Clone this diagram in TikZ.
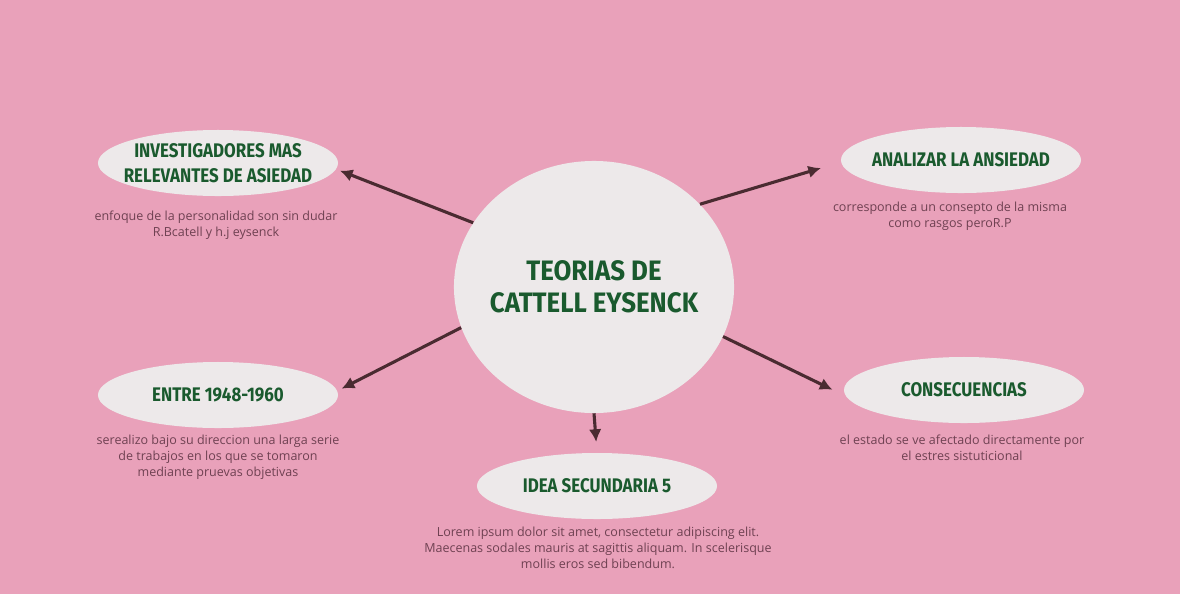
\documentclass[tikz,border=0pt]{standalone}
\usepackage{fontspec}
\usepackage{xcolor}
\usetikzlibrary{shapes.geometric,arrows.meta}
\setmainfont{Open Sans}
\newfontfamily\headfont{Fira Sans}[FakeStretch=0.86]
\newfontfamily\titlefont{Fira Sans}[FakeStretch=0.92]
\definecolor{fondo}{HTML}{E9A1BA}
\definecolor{nube}{HTML}{EDE9EA}
\definecolor{verde}{HTML}{1A5A2E}
\definecolor{cafe}{HTML}{4A2B31}
\definecolor{gris}{HTML}{6F4152}
% zero width line, so the ellipse keeps its minimum size
\newcommand{\linea}[1]{\makebox[0pt]{#1}}

\tikzset{
    idea/.style={ellipse,fill=nube,minimum width=6cm,minimum height=1.65cm,inner sep=0pt,align=center,text=verde,font=\headfont\bfseries\fontsize{14}{17}\selectfont},
    nota/.style={align=center,text=gris,inner sep=0pt,font=\fontsize{8.9}{11.3}\selectfont},
    flecha/.style={draw=cafe,line width=2.2pt,-{Latex[length=9pt,width=9pt]}}
}

\begin{document}
\begin{tikzpicture}[x=0.025cm,y=-0.025cm]
    \fill[fondo] (0,0) rectangle (1180,594);
    % central idea
    \node[idea,minimum width=7cm,minimum height=6.3cm,font=\titlefont\bfseries\fontsize{20}{22.5}\selectfont] (c) at (594,287) {\linea{TEORIAS DE}\\\linea{CATTELL EYSENCK}};
    % secondary ideas
    \node[idea,font=\headfont\bfseries\fontsize{14}{17.7}\selectfont] (tl) at (218,163) {\linea{INVESTIGADORES MAS}\\\linea{RELEVANTES DE ASIEDAD}};
    \node[idea] (tr) at (961,160) {\linea{ANALIZAR LA ANSIEDAD}};
    \node[idea] (ml) at (218,395) {\linea{ENTRE 1948-1960}};
    \node[idea] (mr) at (964,390) {\linea{CONSECUENCIAS}};
    \node[idea] (bt) at (597,486) {\linea{IDEA SECUNDARIA 5}};
    % notes
    \node[nota] (tl-nota) at (216,225) {enfoque de la personalidad son sin dudar\\R.Bcatell y h.j eysenck};
    \node[nota] (tr-nota) at (950,216) {corresponde a un consepto de la misma\\como rasgos peroR.P};
    \node[nota] (ml-nota) at (218,457) {serealizo bajo su direccion una larga serie\\de trabajos en los que se tomaron\\mediante pruevas objetivas};
    \node[nota] (mr-nota) at (962,448) {el estado se ve afectado directamente por\\el estres sistuticional};
    \node[nota] (bt-nota) at (598,548) {Lorem ipsum dolor sit amet, consectetur adipiscing elit.\\Maecenas sodales mauris at sagittis aliquam. In scelerisque\\mollis eros sed bibendum.};
    % arrows
    \draw[flecha,shorten >=0.1cm] (c.152) to (tl.-3);
    \draw[flecha,shorten >=0.52cm] (c.38) to (tr.181);
    \draw[flecha,shorten >=0.12cm] (c.197) to (ml.2);
    \draw[flecha,shorten >=0.37cm] (c.-21) to (mr.183);
    \draw[flecha,shorten >=0.27cm] (c.-90) to (bt.90);
\end{tikzpicture}
\end{document}
